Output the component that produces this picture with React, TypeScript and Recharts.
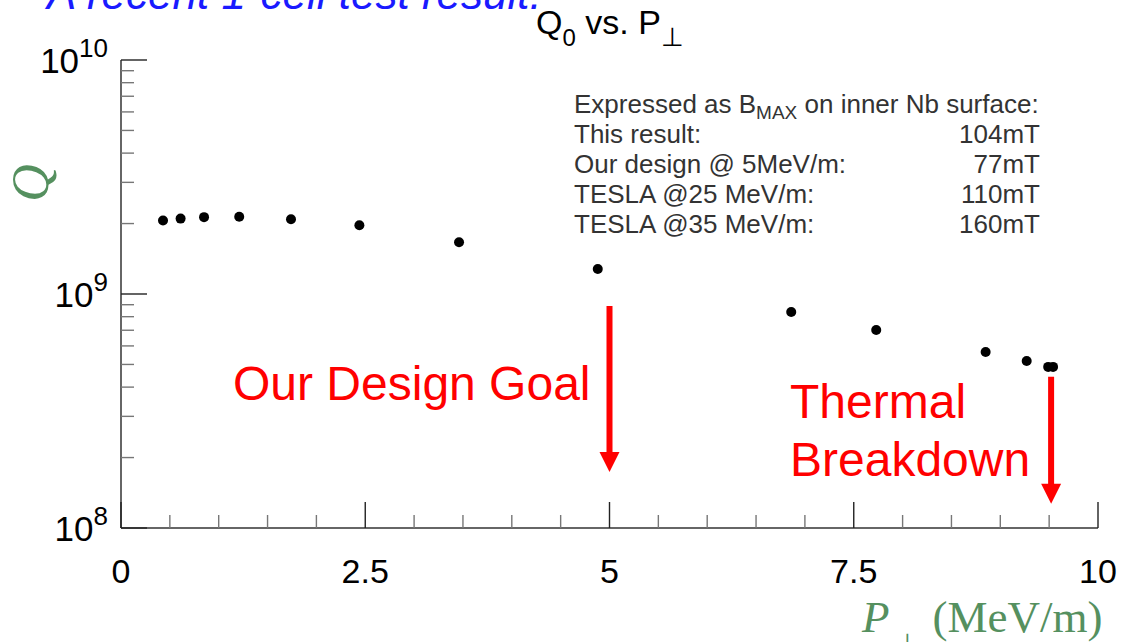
import { ScatterChart, Scatter, XAxis, YAxis, ReferenceLine } from "recharts";

// measured cavity points: accelerating gradient (MeV/m) and Q0
const power = [0.43, 0.61, 0.85, 1.21, 1.74, 2.44, 3.46, 4.88, 6.86, 7.73, 8.85, 9.27, 9.49, 9.54];
const quality = [2.06e9, 2.1e9, 2.13e9, 2.14e9, 2.085e9, 1.966e9, 1.663e9, 1.28e9, 0.838e9, 0.702e9, 0.565e9, 0.517e9, 0.488e9, 0.488e9];

const xTicks = [0, 0.5, 1, 1.5, 2, 2.5, 3, 3.5, 4, 4.5, 5, 5.5, 6, 6.5, 7, 7.5, 8, 8.5, 9, 9.5, 10];
const xLabels = [0, 2.5, 5, 7.5, 10];
const yTicks = [
  1e8, 2e8, 3e8, 4e8, 5e8, 6e8, 7e8, 8e8, 9e8,
  1e9, 2e9, 3e9, 4e9, 5e9, 6e9, 7e9, 8e9, 9e9, 1e10,
];
const yDecades = [1e8, 1e9, 1e10];

const infoTitle = "Expressed as B";
const infoLabels = ["This result:", "Our design @ 5MeV/m:", "TESLA @25 MeV/m:", "TESLA @35 MeV/m:"];
const infoValues = ["104mT", "77mT", "110mT", "160mT"];

// arrows: x position, start Q, tip Q
const arrows = [
  { x: 5, from: 0.889e9, to: 1.735e8 },
  { x: 9.52, from: 0.443e9, to: 1.27e8 },
];

const data = power.map((p, i) => ({ x: p, y: quality[i] }));

const SANS = "'Liberation Sans', Arial, Helvetica, sans-serif";
const SERIF = "'Liberation Serif', 'Times New Roman', serif";
const GREEN = "#55905f";
const RED = "#ff0000";

const MAJOR = 26;
const MINOR = 13;

const BottomTick = (props: any) => {
  const { x, y, payload } = props;
  const major = xLabels.includes(payload.value);
  return (
    <g>
      <line x1={x} x2={x} y1={y} y2={y - (major ? MAJOR : MINOR)} stroke={major ? "#222" : "#777"} strokeWidth={1.4} />
      {major && (
        <text x={x} y={y + 55} textAnchor="middle" fontSize={34} fontFamily={SANS} fill="#000">
          {payload.value}
        </text>
      )}
    </g>
  );
};

const TopTick = (props: any) => {
  const { x, y, payload } = props;
  const major = xLabels.includes(payload.value);
  return <line x1={x} x2={x} y1={y} y2={y + (major ? MAJOR : MINOR)} stroke={major ? "#222" : "#777"} strokeWidth={1.4} />;
};

const LeftTick = (props: any) => {
  const { x, y, payload } = props;
  const major = yDecades.includes(payload.value);
  const exp = Math.round(Math.log10(payload.value));
  return (
    <g>
      <line x1={x} x2={x + (major ? MAJOR : MINOR)} y1={y} y2={y} stroke={major ? "#222" : "#777"} strokeWidth={1.4} />
      {major && (
        <text x={x - 13} y={y + 13} textAnchor="end" fontFamily={SANS} fill="#000">
          <tspan fontSize={35}>10</tspan>
          <tspan fontSize={26} dy={-16}>{exp}</tspan>
        </text>
      )}
    </g>
  );
};

const RightTick = (props: any) => {
  const { x, y, payload } = props;
  const major = yDecades.includes(payload.value);
  return <line x1={x} x2={x - (major ? MAJOR : MINOR)} y1={y} y2={y} stroke={major ? "#222" : "#777"} strokeWidth={1.4} />;
};

const Dot = (props: any) => <circle cx={props.cx} cy={props.cy} r={5} fill="#000" />;

const Arrow = (props: any) => {
  const { x1, y1, x2, y2 } = props;
  const head = 20;
  return (
    <g>
      <line x1={x1} y1={y1} x2={x2} y2={y2 - head + 1} stroke={RED} strokeWidth={6} />
      <polygon points={`${x2 - 10},${y2 - head} ${x2 + 10},${y2 - head} ${x2},${y2}`} fill={RED} />
    </g>
  );
};

export default function App() {
  return (
    <div style={{ position: "absolute", left: 0, top: 0, width: 1122, height: 642, overflow: "hidden", background: "#fff" }}>
      <ScatterChart width={1122} height={642} margin={{ top: 60, right: 24, bottom: 54, left: 0 }}>
        <XAxis
          dataKey="x"
          type="number"
          domain={[0, 10]}
          ticks={xTicks}
          interval={0}
          tickSize={0}
          tickMargin={0}
          tick={<BottomTick />}
          height={60}
          axisLine={{ stroke: "#333", strokeWidth: 1.5 }}
          allowDataOverflow
        />
        <XAxis
          xAxisId="top"
          orientation="top"
          type="number"
          domain={[0, 10]}
          ticks={xTicks}
          interval={0}
          tickSize={0}
          tickMargin={0}
          tick={<TopTick />}
          height={0}
          axisLine={{ stroke: "#8a8a8a", strokeWidth: 1.5 }}
          allowDataOverflow
        />
        <YAxis
          dataKey="y"
          type="number"
          scale="log"
          domain={[1e8, 1e10]}
          ticks={yTicks}
          interval={0}
          tickSize={0}
          tickMargin={0}
          tick={<LeftTick />}
          width={121}
          axisLine={{ stroke: "#333", strokeWidth: 1.5 }}
          allowDataOverflow
        />
        <YAxis
          yAxisId="right"
          orientation="right"
          type="number"
          scale="log"
          domain={[1e8, 1e10]}
          ticks={yTicks}
          interval={0}
          tickSize={0}
          tickMargin={0}
          tick={<RightTick />}
          width={0}
          axisLine={{ stroke: "#333", strokeWidth: 1.5 }}
          allowDataOverflow
        />
        {arrows.map((a, i) => (
          <ReferenceLine
            key={i}
            segment={[
              { x: a.x, y: a.from },
              { x: a.x, y: a.to },
            ]}
            shape={Arrow}
            ifOverflow="visible"
          />
        ))}
        <Scatter data={data} shape={Dot} isAnimationActive={false} />
      </ScatterChart>

      <svg width={1122} height={642} style={{ position: "absolute", left: 0, top: 0, pointerEvents: "none" }}>
        <text x={47} y={9} fontSize={44} fontStyle="italic" fontFamily={SANS} fill="#1a1aff">
          A recent 1-cell test result:
        </text>
        <text x={536} y={34} fontFamily={SANS} fill="#000">
          <tspan fontSize={34}>Q</tspan>
          <tspan fontSize={24} dy={12}>0</tspan>
          <tspan fontSize={34} dy={-12}> vs. P</tspan>
          <tspan fontSize={26} dy={12}>⊥</tspan>
        </text>
        <text
          x={48}
          y={183}
          transform="rotate(-90 48 183)"
          textAnchor="middle"
          fontSize={52}
          fontStyle="italic"
          fontFamily={SERIF}
          fill={GREEN}
        >
          Q
        </text>
        <text x={862} y={632} fontFamily={SERIF} fill={GREEN}>
          <tspan fontSize={45} fontStyle="italic">P</tspan>
          <tspan fontSize={26} dx={6} dy={20}>⊥</tspan>
          <tspan fontSize={45} dx={14} dy={-20}>(MeV/m)</tspan>
        </text>

        <g fontFamily={SANS} fontSize={26} fill="#333">
          <text x={574} y={113}>
            {infoTitle}
            <tspan fontSize={19} dy={6}>MAX</tspan>
            <tspan dy={-6}> on inner Nb surface:</tspan>
          </text>
          {infoLabels.map((l, i) => (
            <g key={l}>
              <text x={574} y={143 + i * 30}>{l}</text>
              <text x={1040} y={143 + i * 30} textAnchor="end">{infoValues[i]}</text>
            </g>
          ))}
        </g>

        <g fontFamily={SANS} fontSize={48} fill={RED}>
          <text x={233} y={400}>Our Design Goal</text>
          <text x={790} y={418}>Thermal</text>
          <text x={790} y={476}>Breakdown</text>
        </g>
      </svg>
    </div>
  );
}
